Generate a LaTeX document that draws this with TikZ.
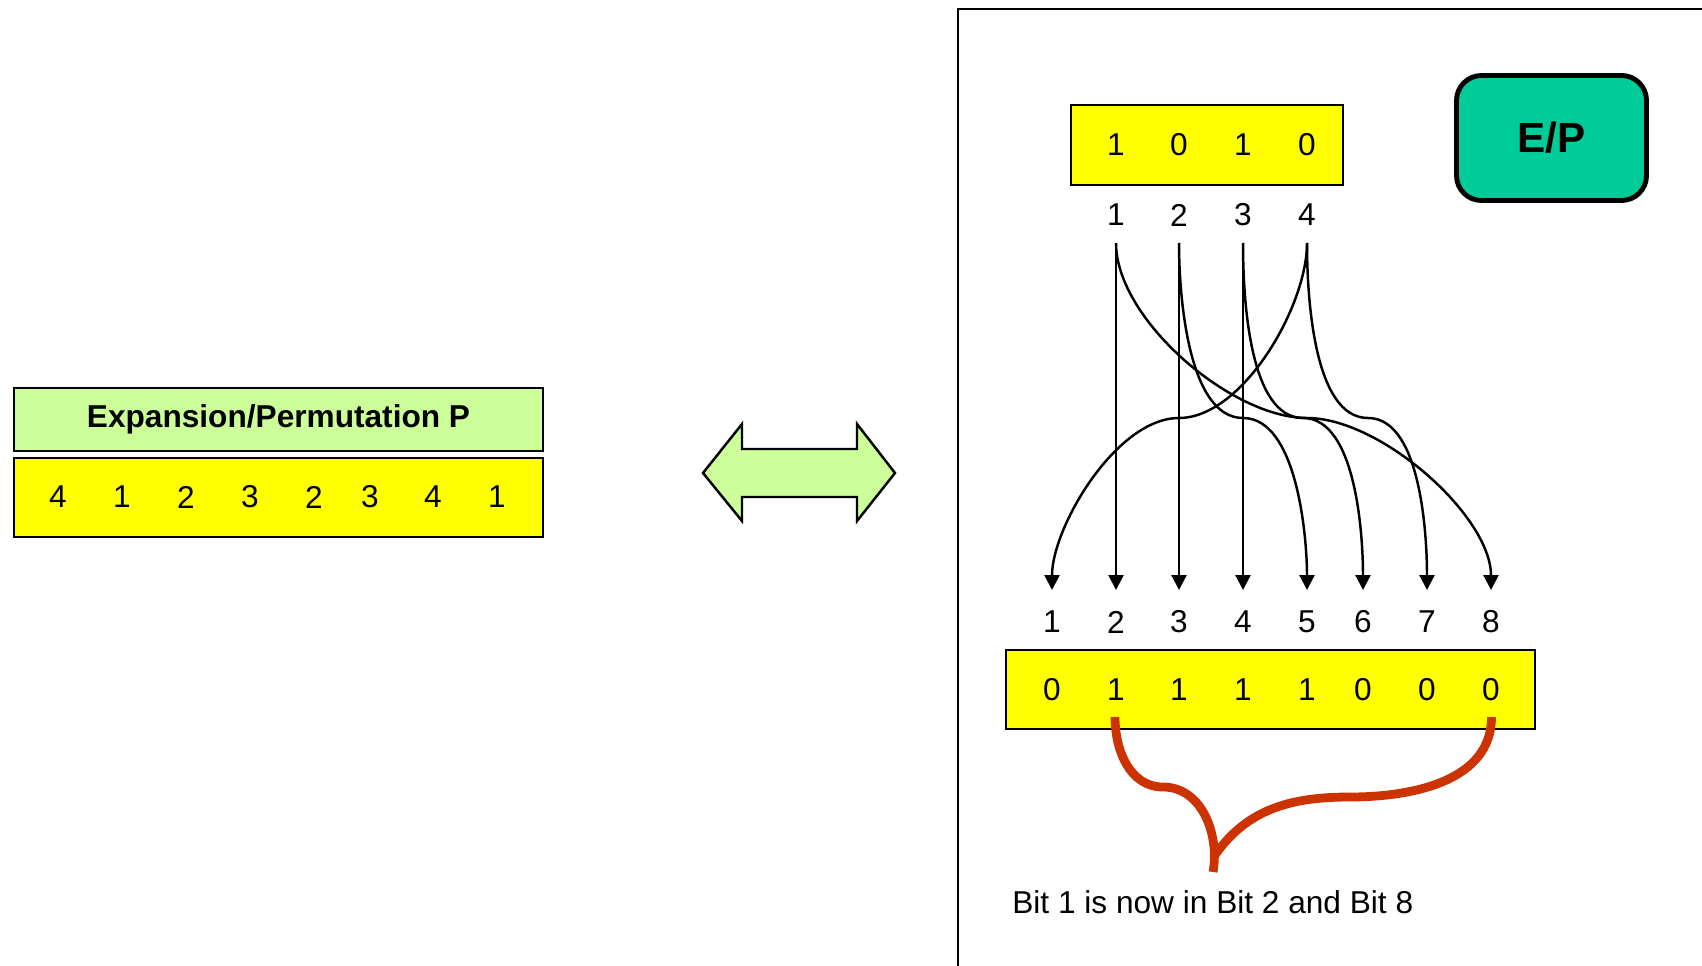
\documentclass[tikz,border=0pt]{standalone}
\usepackage{fontspec}
\setmainfont{Liberation Sans}
\usetikzlibrary{arrows.meta, positioning}

\definecolor{bitYellow}{HTML}{FFFF00}
\definecolor{lightGreen}{HTML}{CCFF99}
\definecolor{epGreen}{HTML}{00CC99}
\definecolor{braceRed}{HTML}{CC3300}

\tikzset{
  bitbox/.style={draw, line width=1.6pt, fill=bitYellow, inner sep=0pt},
  wire/.style={line width=1.4pt, looseness=0.75},
  brace/.style={draw=braceRed, line width=5pt},
}

\begin{document}
\begin{tikzpicture}[>={Triangle[length=3mm,width=3mm]}, font=\fontsize{18}{21}\selectfont]
    \clip (0,0) rectangle (34.04,19.30);

    % the E/P table on the left
    \node[draw, line width=1.6pt, fill=lightGreen, minimum width=10.58cm, minimum height=1.26cm] (ptitle) at (5.57,10.91) {\bfseries Expansion/Permutation P};
    \node[bitbox, minimum width=10.58cm, minimum height=1.58cm] (ptab) at (5.57,9.35) {};
    \node (p1) at (1.16,9.36) {4};
    \node (p2) at (2.44,9.36) {1};
    \node (p3) at (3.72,9.36) {2};
    \node (p4) at (5.00,9.36) {3};
    \node (p5) at (6.28,9.36) {2};
    \node (p6) at (7.40,9.36) {3};
    \node (p7) at (8.66,9.36) {4};
    \node (p8) at (9.94,9.36) {1};

    % double arrow
    \draw[line width=1.4pt, fill=lightGreen] (14.06,9.84) -- (14.84,10.82) -- (14.84,10.32) -- (17.14,10.32) -- (17.14,10.82) -- (17.90,9.84) -- (17.14,8.88) -- (17.14,9.36) -- (14.84,9.36) -- (14.84,8.88) -- cycle;

    % frame
    \draw[line width=1.6pt] (19.16,-0.5) -- (19.16,19.12) -- (34.5,19.12);

    % input bits
    \node[bitbox, minimum width=5.44cm, minimum height=1.6cm] (inbox) at (24.14,16.40) {};
    \node (x1) at (22.32,16.40) {1};
    \node (x2) at (23.58,16.40) {0};
    \node (x3) at (24.86,16.40) {1};
    \node (x4) at (26.14,16.40) {0};
    \node (i1) at (22.32,15.00) {1};
    \node (i2) at (23.58,15.00) {2};
    \node (i3) at (24.86,15.00) {3};
    \node (i4) at (26.14,15.00) {4};

    \node[draw, line width=2.8pt, fill=epGreen, rounded corners=0.5cm, minimum width=3.8cm, minimum height=2.5cm] (ep) at (31.03,16.54) {\fontsize{24}{28}\selectfont\bfseries E/P};

    % output bits
    \node (o1) at (21.04,6.86) {1};
    \node (o2) at (22.32,6.86) {2};
    \node (o3) at (23.58,6.86) {3};
    \node (o4) at (24.86,6.86) {4};
    \node (o5) at (26.14,6.86) {5};
    \node (o6) at (27.26,6.86) {6};
    \node (o7) at (28.54,6.86) {7};
    \node (o8) at (29.82,6.86) {8};
    \node[bitbox, minimum width=10.58cm, minimum height=1.58cm] (outbox) at (25.41,5.51) {};
    \node (y1) at (21.04,5.50) {0};
    \node (y2) at (22.32,5.50) {1};
    \node (y3) at (23.58,5.50) {1};
    \node (y4) at (24.86,5.50) {1};
    \node (y5) at (26.14,5.50) {1};
    \node (y6) at (27.26,5.50) {0};
    \node (y7) at (28.54,5.50) {0};
    \node (y8) at (29.82,5.50) {0};

    \coordinate (a1) at (22.32,14.44);
    \coordinate (a2) at (23.58,14.44);
    \coordinate (a3) at (24.86,14.44);
    \coordinate (a4) at (26.14,14.44);
    \coordinate (b1) at (21.04,7.50);
    \coordinate (b2) at (22.32,7.50);
    \coordinate (b3) at (23.58,7.50);
    \coordinate (b4) at (24.86,7.50);
    \coordinate (b5) at (26.14,7.50);
    \coordinate (b6) at (27.26,7.50);
    \coordinate (b7) at (28.54,7.50);
    \coordinate (b8) at (29.82,7.50);

    % wiring
    \draw[wire, ->] (a1) -- (b2);
    \draw[wire, ->] (a2) -- (b3);
    \draw[wire, ->] (a3) -- (b4);
    \draw[wire, ->] (a4) to[out=-90, in=0] (23.58,10.94) to[out=180, in=90] (b1);
    \draw[wire, ->] (a1) to[out=-90, in=180] (26.14,10.94) to[out=0, in=90] (b8);
    \draw[wire, ->] (a2) to[out=-90, in=180] (24.86,10.94) to[out=0, in=90] (b5);
    \draw[wire, ->] (a3) to[out=-90, in=180] (26.06,10.94) to[out=0, in=90] (b6);
    \draw[wire, ->] (a4) to[out=-90, in=180] (27.36,10.94) to[out=0, in=90] (b7);

    % brace from bit 2 and bit 8
    \coordinate (r2) at (22.30,4.96);
    \coordinate (r8) at (29.83,4.96);
    \coordinate (tip) at (24.26,1.86);
    \draw[brace] (r2) to[out=-90, in=180] (23.26,3.56) to[out=0, in=80] (tip);
    \draw[brace] (r8) to[out=-90, in=0] (27.00,3.36) to[out=180, in=55] (24.30,2.20);

    \node[anchor=base west, inner sep=0pt] (note) at (20.24,1.04) {Bit 1 is now in Bit 2 and Bit 8};
\end{tikzpicture}
\end{document}
